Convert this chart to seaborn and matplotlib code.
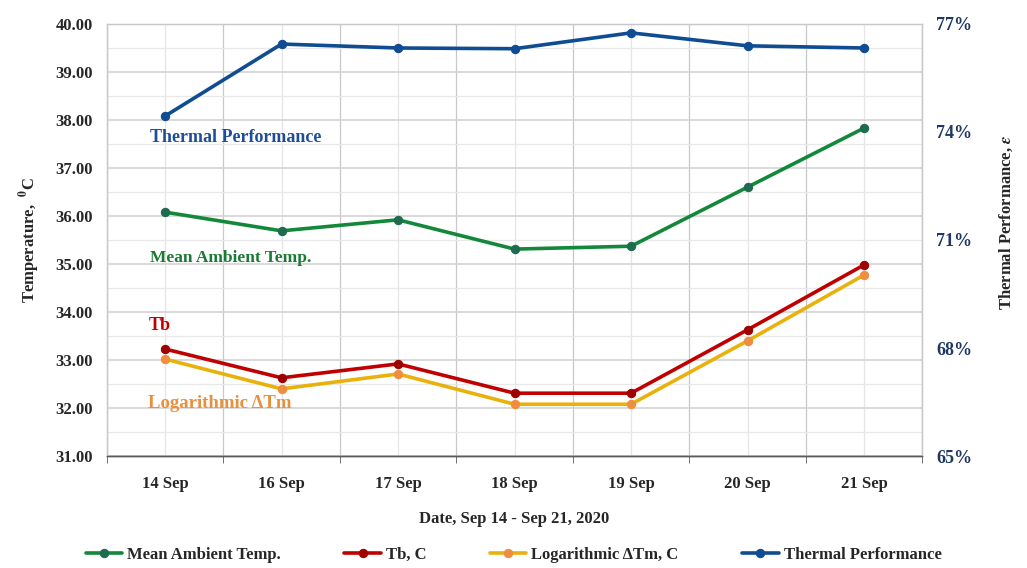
import numpy as np
import pandas as pd
import matplotlib
matplotlib.use("Agg")
import matplotlib.pyplot as plt
import seaborn as sns
from matplotlib.ticker import FixedLocator, FuncFormatter

# Dữ liệu
dates = ['14 Sep', '16 Sep', '17 Sep', '18 Sep', '19 Sep', '20 Sep', '21 Sep']
mean_ambient = [36.08, 35.69, 35.92, 35.31, 35.37, 36.60, 37.83]
tb = [33.23, 32.63, 32.92, 32.31, 32.31, 33.63, 34.98]
log_dtm = [33.02, 32.40, 32.71, 32.08, 32.08, 33.40, 34.77]
thermal_perf = [74.44, 76.44, 76.33, 76.31, 76.75, 76.39, 76.33]

left_ticks = [31, 32, 33, 34, 35, 36, 37, 38, 39, 40]
right_ticks = [65, 68, 71, 74, 77]

sns.set_style('white')
plt.rcParams['font.family'] = ['Liberation Serif', 'DejaVu Serif']
plt.rcParams['font.weight'] = 'bold'
plt.rcParams['axes.labelweight'] = 'bold'
plt.rcParams['mathtext.fontset'] = 'stix'

df = pd.DataFrame({'x': np.arange(len(dates)), 'amb': mean_ambient, 'tb': tb,
                   'log': log_dtm, 'tp': thermal_perf})

c_green, c_red, c_gold, c_blue = '#13883A', '#C00000', '#E9B10C', '#0F4C92'
navy = '#1F3864'

fig, ax = plt.subplots(figsize=(10.27, 5.68), dpi=100)
fig.subplots_adjust(left=0.104, right=0.898, top=0.958, bottom=0.197)

lw = 2.6
sns.lineplot(data=df, x='x', y='amb', ax=ax, color=c_green, lw=lw, marker='o', ms=6,
             mfc='#1E6B4F', mec='#1E6B4F', label='Mean Ambient Temp.')
sns.lineplot(data=df, x='x', y='tb', ax=ax, color=c_red, lw=lw, marker='o', ms=6,
             mfc='#9E0000', mec='#9E0000', label='Tb, C')
sns.lineplot(data=df, x='x', y='log', ax=ax, color=c_gold, lw=lw, marker='o', ms=6,
             mfc='#EE8E3E', mec='#EE8E3E', label='Logarithmic ΔTm, C')

ax2 = ax.twinx()
sns.lineplot(data=df, x='x', y='tp', ax=ax2, color=c_blue, lw=lw, marker='o', ms=6,
             mfc=c_blue, mec=c_blue, label='Thermal Performance')

ax.set_xlim(-0.5, len(dates) - 0.5)
ax.set_ylim(31, 40)
ax2.set_ylim(65, 77)

# trục x: nhãn ở giữa, vạch ở ranh giới
ax.set_xticks(df['x'])
ax.set_xticklabels(dates)
ax.xaxis.set_minor_locator(FixedLocator(np.arange(-0.5, len(dates), 1.0)))
ax.tick_params(axis='x', which='major', length=0, pad=14, labelsize=12, colors='#262626')
ax.tick_params(axis='x', which='minor', length=5, color='#595959', bottom=True)

ax.set_yticks(left_ticks)
ax.yaxis.set_major_formatter(FuncFormatter(lambda v, p: f'{v:.2f}'))
ax.yaxis.set_minor_locator(FixedLocator(np.arange(31.5, 40, 1.0)))
ax.tick_params(axis='y', which='both', length=0, labelsize=12, colors='#262626', pad=10)

ax2.set_yticks(right_ticks)
ax2.yaxis.set_major_formatter(FuncFormatter(lambda v, p: f'{v:.0f}%'))
ax2.tick_params(axis='y', length=0, labelsize=13, colors=navy, pad=10)

# lưới
ax.grid(True, which='major', axis='y', color='#D0D0D0', lw=1.1)
ax.grid(True, which='minor', axis='y', color='#E8E8E8', lw=0.9)
ax.grid(True, which='minor', axis='x', color='#C8C8C8', lw=0.9)
ax.grid(True, which='major', axis='x', color='#E6E6E6', lw=0.9)
ax.set_axisbelow(True)

for a in (ax, ax2):
    for s in ('top', 'left', 'right'):
        a.spines[s].set_color('#C8C8C8')
        a.spines[s].set_linewidth(0.9)
    a.spines['bottom'].set_color('#595959')
    a.spines['bottom'].set_linewidth(1.0)

ax.set_xlabel('Date, Sep 14 - Sep 21, 2020', fontsize=12, labelpad=14, color='#262626',
              fontweight='bold')
ax.set_ylabel(r'Temperature,  $\mathbf{^{0}}$C', fontsize=12, labelpad=10, color='#262626',
              fontweight='bold')
ax2.set_ylabel(r'Thermal Performance, $\varepsilon$', fontsize=12, color='#262626',
               fontweight='bold')
ax2.yaxis.set_label_coords(1.092, 0.54)

# chú thích trên biểu đồ
ax.text(-0.13, 37.64, 'Thermal Performance', color='#1F4E99', fontsize=13, va='center')
ax.text(-0.13, 35.13, 'Mean Ambient Temp.', color='#1A7A35', fontsize=12.5, va='center')
ax.text(-0.14, 33.72, 'Tb', color=c_red, fontsize=13, va='center')
ax.text(-0.15, 32.09, 'Logarithmic ΔTm', color='#E8903E', fontsize=13.5, va='center')

h1, l1 = ax.get_legend_handles_labels()
h2, l2 = ax2.get_legend_handles_labels()
ax.get_legend().remove()
ax2.get_legend().remove()
fig.legend(h1 + h2, l1 + l2, loc='lower center', bbox_to_anchor=(0.5, -0.018), ncol=4,
           frameon=False, fontsize=12, handlelength=2.2, columnspacing=3.8,
           handletextpad=0.3)

fig.savefig('out.png', dpi=100)
